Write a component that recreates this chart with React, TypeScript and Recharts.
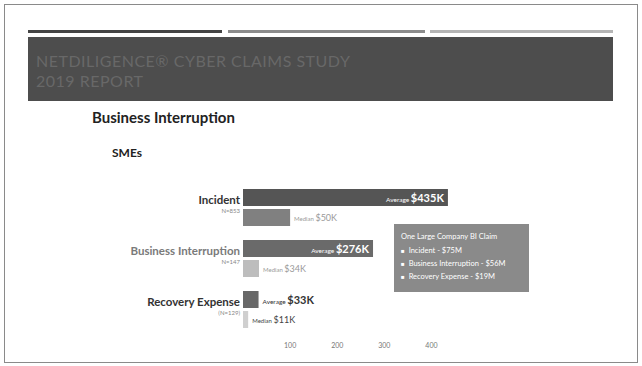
import { Bar, BarChart, Cell, LabelList, XAxis, YAxis } from "recharts";

const CATEGORIES = ["Incident", "Business Interruption", "Recovery Expense"];
const SAMPLE_SIZES = ["N=853", "N=147", "(N=129)"];
const AVERAGE = [435, 276, 33];
const MEDIAN = [100, 34, 11];
const AVERAGE_LABELS = ["$435K", "$276K", "$33K"];
const MEDIAN_LABELS = ["$50K", "$34K", "$11K"];
const X_TICKS = [100, 200, 300, 400];

const BIG_CLAIM = [
  "Incident - $75M",
  "Business Interruption - $56M",
  "Recovery Expense - $19M",
];

const AVG_COLORS = ["#555555", "#6a6a6a", "#686868"];
const MEDIAN_COLORS = ["#808080", "#bdbdbd", "#cfcfcf"];
const NAME_COLORS = ["#333333", "#7a7a7a", "#333333"];

const FONT = "Lato, 'Open Sans', sans-serif";

const data = CATEGORIES.map((name, i) => ({
  name,
  n: SAMPLE_SIZES[i],
  average: AVERAGE[i],
  median: MEDIAN[i],
}));

function CategoryTick(props: any) {
  const { x, y, payload, index } = props;
  return (
    <g>
      <text x={x} y={y - 4} textAnchor="end" fontFamily={FONT} fontWeight={700} fontSize={11.5} fill={NAME_COLORS[index]}>
        {payload.value}
      </text>
      <text x={x} y={y + 5} textAnchor="end" fontFamily={FONT} fontSize={6} fill="#888">
        {SAMPLE_SIZES[index]}
      </text>
    </g>
  );
}

function AverageLabel(props: any) {
  const { x, y, width, height, index } = props;
  const cy = y + height / 2 + 4;
  if (width > 60) {
    const endX = x + width - 4;
    return (
      <text x={endX} y={cy} textAnchor="end" fontFamily={FONT} fill="#fff">
        <tspan fontSize={6.5}>Average </tspan>
        <tspan fontSize={11} fontWeight={700}>{AVERAGE_LABELS[index]}</tspan>
      </text>
    );
  }
  return (
    <text x={x + width + 4} y={cy} fontFamily={FONT} fill="#333">
      <tspan fontSize={6.5}>Average </tspan>
      <tspan fontSize={11} fontWeight={700}>{AVERAGE_LABELS[index]}</tspan>
    </text>
  );
}

function MedianLabel(props: any) {
  const { x, y, width, height, index } = props;
  const dark = index === 2;
  return (
    <text x={x + width + 4} y={y + height / 2 + 3} fontFamily={FONT} fill={dark ? "#444" : "#9a9a9a"}>
      <tspan fontSize={6}>Median </tspan>
      <tspan fontSize={9}>{MEDIAN_LABELS[index]}</tspan>
    </text>
  );
}

export default function App() {
  return (
    <div style={{ position: "absolute", left: 0, top: 0, width: 642, height: 366, background: "#fff", fontFamily: FONT }}>
      {/* slide frame */}
      <div style={{ position: "absolute", left: 4, top: 4, width: 632, height: 357, border: "1px solid #8a8a8a" }} />
      <div style={{ position: "absolute", left: 28, top: 30, width: 194, height: 3, background: "#454545" }} />
      <div style={{ position: "absolute", left: 228, top: 30, width: 197, height: 3, background: "#8c8c8c" }} />
      <div style={{ position: "absolute", left: 430, top: 30, width: 183, height: 3, background: "#b5b5b5" }} />
      <div style={{ position: "absolute", left: 28, top: 37, width: 585, height: 64, background: "#4d4d4d" }}>
        <div style={{ position: "absolute", left: 8, top: 14, fontSize: 16, lineHeight: "20px", color: "#686868", letterSpacing: 0.5, whiteSpace: "nowrap" }}>
          NETDILIGENCE® CYBER CLAIMS STUDY
          <br />
          2019 REPORT
        </div>
      </div>
      <div style={{ position: "absolute", left: 92, top: 108, fontSize: 15, fontWeight: 700, color: "#222" }}>
        Business Interruption
      </div>
      <div style={{ position: "absolute", left: 112, top: 145, fontSize: 12, fontWeight: 700, color: "#222" }}>
        SMEs
      </div>

      <div style={{ position: "absolute", left: 0, top: 0 }}>
        <BarChart
          width={642}
          height={366}
          data={data}
          layout="vertical"
          margin={{ top: 182, right: 187, bottom: 11, left: 0 }}
          barCategoryGap={7}
          barGap={3}
        >
          <XAxis
            type="number"
            domain={[0, 450]}
            ticks={X_TICKS}
            axisLine={false}
            tickLine={false}
            height={20}
            tick={{ fontSize: 7, fill: "#777", fontFamily: FONT }}
          />
          <YAxis
            type="category"
            dataKey="name"
            width={243}
            axisLine={false}
            tickLine={false}
            tickSize={0}
            tickMargin={3}
            tick={<CategoryTick />}
          />
          <Bar dataKey="average" isAnimationActive={false}>
            {data.map((d, i) => (
              <Cell key={d.name} fill={AVG_COLORS[i]} />
            ))}
            <LabelList dataKey="average" content={<AverageLabel />} />
          </Bar>
          <Bar dataKey="median" isAnimationActive={false}>
            {data.map((d, i) => (
              <Cell key={d.name} fill={MEDIAN_COLORS[i]} />
            ))}
            <LabelList dataKey="median" content={<MedianLabel />} />
          </Bar>
        </BarChart>
      </div>

      {/* one large company claim box */}
      <div style={{ position: "absolute", left: 394, top: 224, width: 135, height: 68, background: "#8a8a8a", color: "#fff", fontSize: 7.5 }}>
        <div style={{ position: "absolute", left: 7, top: 8, whiteSpace: "nowrap" }}>One Large Company BI Claim</div>
        {BIG_CLAIM.map((t, i) => (
          <div key={t} style={{ position: "absolute", left: 7, top: 22 + i * 13, whiteSpace: "nowrap" }}>
            <span style={{ fontSize: 6, marginRight: 4 }}>■</span>
            {t}
          </div>
        ))}
      </div>
    </div>
  );
}
